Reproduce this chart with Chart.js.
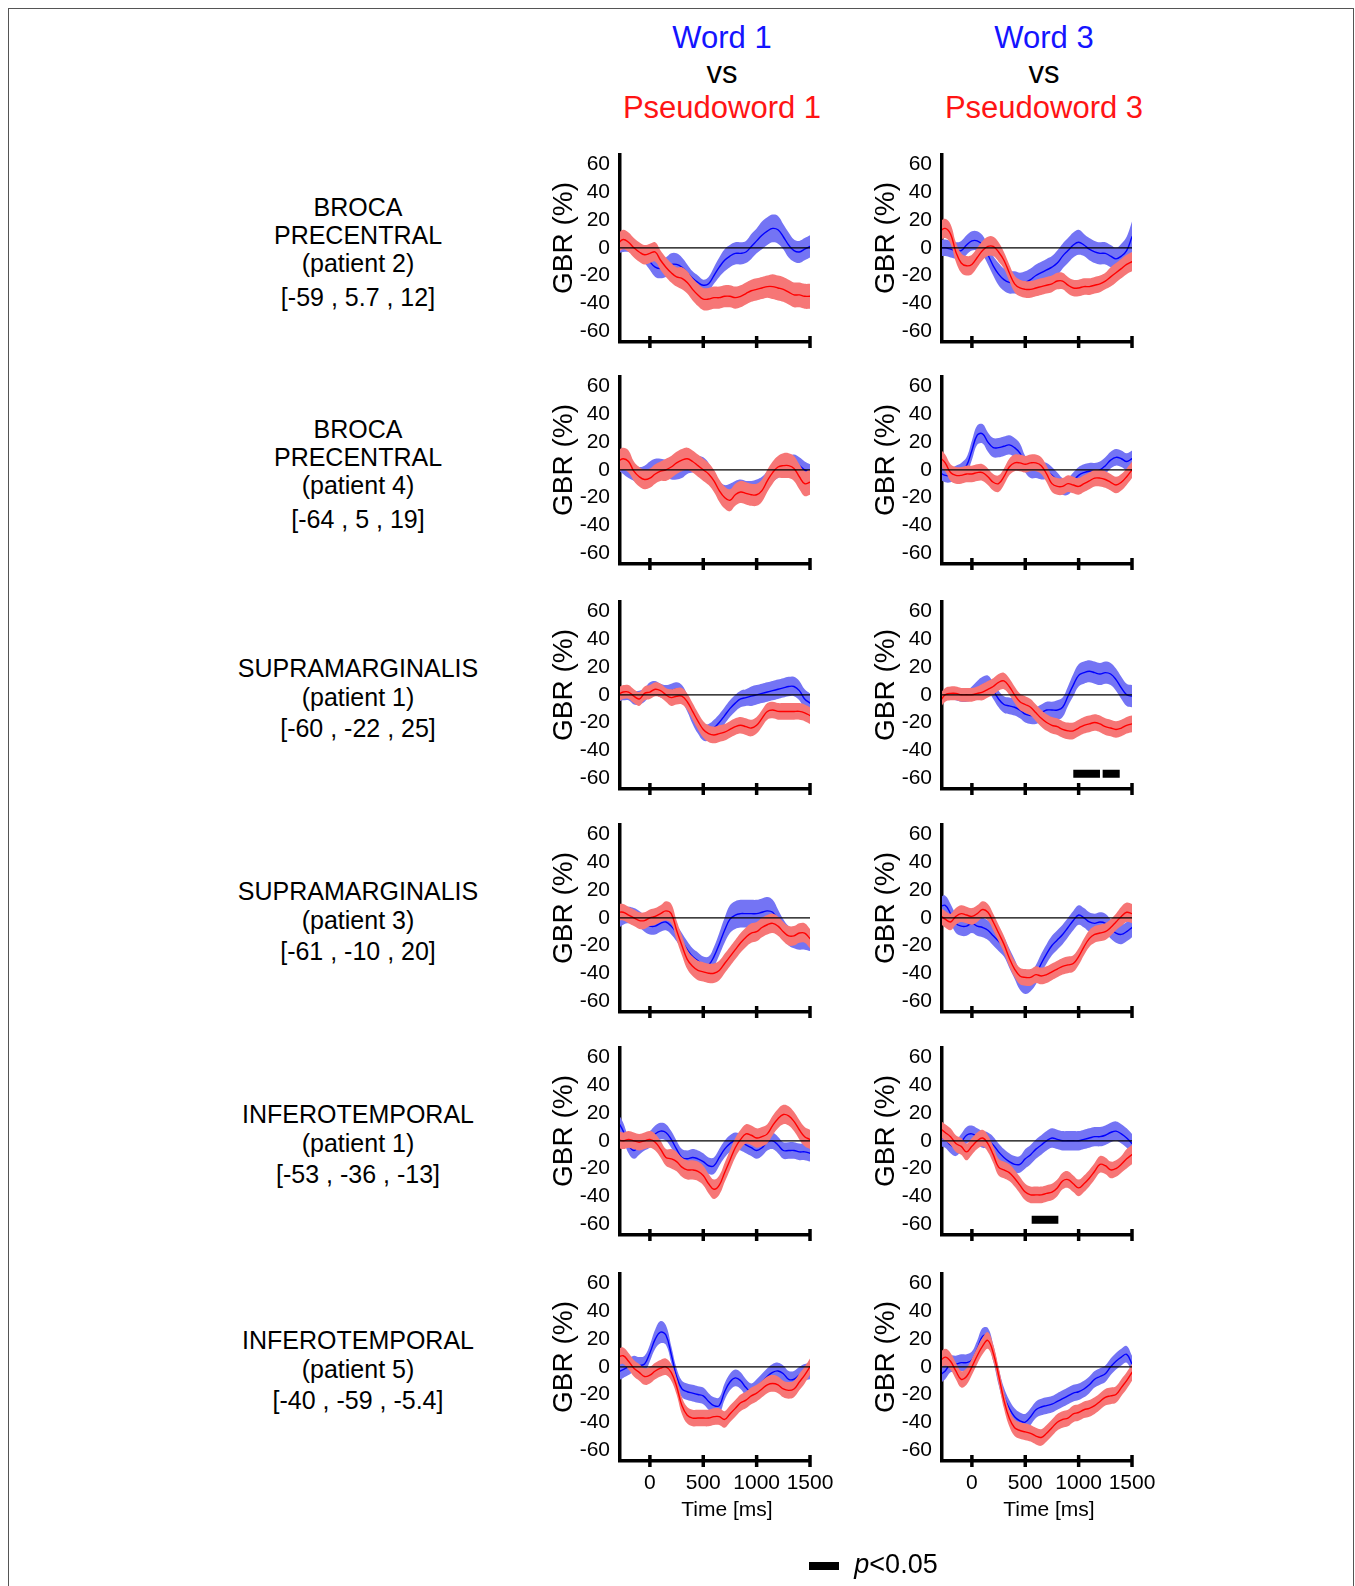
<!DOCTYPE html>
<html>
<head>
<meta charset="utf-8">
<title>Gamma band response: words vs pseudowords</title>
<script src="https://cdn.jsdelivr.net/npm/chart.js@4.4.1/dist/chart.umd.min.js"></script>
<style>
  html, body { margin: 0; padding: 0; background: #fff; }
  body { width: 1355px; height: 1586px; position: relative; overflow: hidden;
         font-family: "Liberation Sans", Arial, Helvetica, sans-serif; color: #000; }
  .frame { position: absolute; left: 8px; top: 8px; width: 1346px; height: 1700px;
           border: 1px solid #555; box-sizing: border-box; }
  .txt { position: absolute; transform: translate(-50%, -50%); white-space: nowrap; line-height: 1; }
  .ylab { position: absolute; transform: translate(-50%, -50%) rotate(-90deg); white-space: nowrap;
          line-height: 1; font-size: 28px; }
  canvas { position: absolute; }
</style>
</head>
<body>
<div class="frame"></div>
<div id="root"></div>
<script>
// ---- time axis (ms) shared by every trace ----
const TIME = [-300,-250,-200,-150,-100,-50,0,50,100,150,200,250,300,350,400,450,500,550,600,650,700,750,800,850,900,950,1000,1050,1100,1150,1200,1250,1300,1350,1400,1450,1500];
const X_TICKS = [0, 500, 1000, 1500];
const Y_TICKS = [-60, -40, -20, 0, 20, 40, 60];
const X_RANGE = [-280, 1500];
const Y_RANGE = [-68, 67];
const SIG_LEVEL = -57;

// ---- column / row headings ----
const COLUMN_TITLES = [
  ["Word 1", "vs", "Pseudoword 1"],
  ["Word 3", "vs", "Pseudoword 3"]
];
const ROW_LABELS = [
  ["BROCA", "PRECENTRAL", "(patient 2)", "[-59 , 5.7 , 12]"],
  ["BROCA", "PRECENTRAL", "(patient 4)", "[-64 , 5 , 19]"],
  ["SUPRAMARGINALIS", "(patient 1)", "[-60 , -22 , 25]"],
  ["SUPRAMARGINALIS", "(patient 3)", "[-61 , -10 , 20]"],
  ["INFEROTEMPORAL", "(patient 1)", "[-53 , -36 , -13]"],
  ["INFEROTEMPORAL", "(patient 5)", "[-40 , -59 , -5.4]"]
];

// ---- GBR (%) means and confidence half-widths ----
// Broca / precentral, patient 2
const brocaP2_w1     = [0,1,1,0,-2,-5,-10,-14,-15,-14,-12,-12,-14,-18,-22,-25,-27,-26,-20,-14,-9,-6,-4,-4,-3,1,5,9,12,14,13,8,2,-2,-3,-1,1];
const brocaP2_w1_ci  = [4,4,4,5,5,6,6,7,7,7,8,8,7,6,5,5,4,5,6,7,8,8,8,8,8,9,9,10,10,10,10,9,9,8,8,8,8];
const brocaP2_pw1    = [3,6,4,0,-3,-5,-4,-3,-9,-14,-18,-21,-22,-25,-30,-34,-37,-37,-36,-36,-35,-35,-36,-35,-33,-31,-30,-29,-28,-28,-29,-30,-32,-34,-34,-35,-35];
const brocaP2_pw1_ci = [7,7,7,7,7,7,7,7,7,7,7,7,8,8,8,8,8,8,8,8,8,8,8,8,8,8,8,8,8,9,9,9,9,9,9,9,9];
const brocaP2_w3     = [0,0,-1,-2,-2,2,5,5,2,-5,-13,-19,-23,-25,-25,-26,-25,-23,-20,-18,-16,-14,-11,-6,-2,2,4,2,-1,-3,-4,-4,-6,-8,-6,-2,8];
const brocaP2_w3_ci  = [6,6,6,6,7,7,7,7,7,7,7,8,8,8,8,8,8,8,8,8,8,8,9,9,9,9,9,8,8,8,8,8,8,8,9,10,11];
const brocaP2_pw3    = [12,14,10,-3,-11,-13,-12,-7,-2,1,1,-3,-9,-18,-26,-29,-30,-30,-29,-28,-27,-26,-24,-24,-27,-29,-29,-28,-28,-27,-26,-24,-21,-18,-15,-12,-10];
const brocaP2_pw3_ci = [7,7,7,7,7,7,7,7,7,7,7,7,6,6,6,6,6,6,6,6,6,6,6,6,6,6,6,6,6,6,6,6,7,7,7,7,7];

// Broca / precentral, patient 4
const brocaP4_w1     = [7,4,0,-2,-4,-3,0,2,2,1,-1,-1,0,3,4,4,3,-1,-8,-14,-17,-16,-14,-13,-14,-14,-13,-11,-7,-3,0,2,4,5,3,0,-2];
const brocaP4_w1_ci  = [7,7,6,6,6,6,6,6,6,6,6,6,6,6,6,6,6,6,6,6,6,6,6,6,6,6,6,6,6,6,6,6,6,6,6,6,6];
const brocaP4_pw1    = [6,8,6,-1,-5,-7,-6,-3,-1,0,2,5,7,8,6,3,0,-3,-8,-15,-20,-22,-18,-16,-17,-18,-18,-15,-8,-2,2,3,3,1,-5,-10,-9];
const brocaP4_pw1_ci = [8,8,8,7,7,7,7,7,7,8,8,8,8,8,8,8,8,8,8,8,8,8,8,8,8,8,8,8,8,8,8,9,9,9,9,9,9];
const brocaP4_w3     = [-2,-4,-4,-2,0,3,14,25,26,20,16,16,17,18,16,12,4,0,0,-1,-1,-4,-8,-12,-12,-8,-4,-2,-1,-1,0,3,7,9,8,6,8];
const brocaP4_w3_ci  = [5,5,5,5,5,6,7,7,7,7,7,7,7,7,7,7,6,6,6,6,6,6,6,6,6,6,6,6,6,6,6,6,6,6,6,6,6];
const brocaP4_pw3    = [9,5,-2,-4,-4,-3,-3,-2,-2,-5,-9,-10,-5,2,5,5,4,5,5,3,-3,-10,-12,-12,-10,-11,-12,-10,-8,-6,-6,-7,-9,-11,-9,-5,0];
const brocaP4_pw3_ci = [6,6,6,6,6,6,6,6,6,6,6,6,6,6,6,6,6,6,6,6,6,6,6,6,6,6,6,6,6,6,6,6,6,6,6,6,6];

// Supramarginalis, patient 1
const supraP1_w1     = [0,1,1,-2,-2,0,4,5,3,2,3,4,1,-6,-15,-22,-27,-27,-24,-20,-15,-10,-6,-3,-2,-1,0,1,2,3,4,5,6,6,3,-3,-6];
const supraP1_w1_ci  = [5,5,5,5,5,5,5,5,5,5,5,5,6,6,6,6,6,6,6,6,6,6,6,6,6,7,7,7,7,7,7,7,7,7,7,7,7];
const supraP1_pw1    = [0,2,2,-1,-3,1,2,4,3,0,-2,-1,-1,-5,-12,-19,-25,-28,-29,-28,-27,-25,-23,-22,-23,-24,-22,-17,-12,-11,-12,-12,-12,-12,-12,-13,-15];
const supraP1_pw1_ci = [5,5,5,5,5,5,5,5,5,5,6,6,6,6,6,6,6,6,6,6,6,6,6,6,6,6,6,6,6,6,6,6,6,6,6,6,6];
const supraP1_w3     = [-3,0,1,0,-1,-1,1,4,7,8,3,-3,-7,-8,-9,-11,-14,-15,-15,-13,-11,-11,-11,-9,-1,7,14,16,17,16,15,16,15,11,5,0,-1];
const supraP1_w3_ci  = [4,4,4,4,4,4,5,6,6,6,6,6,6,6,6,6,6,6,6,6,6,6,7,7,7,8,8,8,8,8,8,8,8,8,8,8,8];
const supraP1_pw3    = [-5,0,1,1,0,0,0,1,2,4,6,9,10,6,0,-5,-7,-9,-13,-17,-20,-22,-23,-25,-26,-26,-24,-22,-21,-20,-21,-23,-24,-25,-24,-22,-21];
const supraP1_pw3_ci = [5,5,5,5,5,5,5,5,6,6,6,6,6,6,6,6,6,6,6,6,6,6,6,6,6,6,6,6,6,6,6,6,6,6,6,6,6];
const supraP1_sig3   = [[950, 1200], [1225, 1385]];

// Supramarginalis, patient 3
const supraP3_w1     = [-2,1,2,1,-1,-4,-6,-6,-4,-3,-6,-11,-17,-23,-28,-31,-34,-34,-28,-19,-9,-1,2,3,3,3,3,4,5,4,-2,-8,-13,-15,-16,-16,-17];
const supraP3_w1_ci  = [6,6,6,6,6,6,6,6,6,6,6,6,6,6,6,6,6,6,7,8,9,10,10,10,10,10,10,10,10,9,8,7,7,7,7,7,7];
const supraP3_pw1    = [4,4,2,0,-2,-2,0,1,3,5,3,-9,-20,-30,-35,-38,-39,-40,-40,-38,-33,-28,-23,-18,-14,-11,-10,-7,-5,-4,-6,-10,-13,-13,-11,-11,-15];
const supraP3_pw1_ci = [6,6,6,6,6,6,6,6,6,7,7,7,7,7,7,7,7,7,7,7,7,7,7,7,7,7,7,7,7,7,7,7,7,7,7,7,7];
const supraP3_w3     = [8,9,3,-4,-6,-6,-4,-6,-7,-9,-13,-17,-21,-29,-37,-45,-48,-46,-41,-33,-26,-20,-16,-12,-7,-2,2,0,-3,-4,-3,-4,-8,-11,-12,-10,-7];
const supraP3_w3_ci  = [7,7,7,7,7,7,7,7,7,7,7,7,7,7,7,7,7,7,7,7,7,7,7,7,7,7,7,7,7,7,7,7,7,7,7,7,7];
const supraP3_pw3    = [2,-1,-3,1,3,2,1,3,6,4,-3,-11,-19,-29,-37,-42,-43,-43,-41,-42,-41,-39,-37,-35,-34,-33,-28,-21,-15,-12,-11,-10,-7,-3,1,4,3];
const supraP3_pw3_ci = [6,6,6,6,6,6,6,6,6,6,6,6,6,6,6,6,6,6,6,6,6,6,6,6,6,6,6,6,6,6,6,6,6,6,7,7,7];

// Inferotemporal, patient 1
const infP1_w1       = [14,7,-3,-7,-4,-1,1,5,7,6,1,-6,-12,-13,-12,-13,-15,-18,-18,-12,-6,-2,0,-1,-3,-5,-7,-5,-1,0,-3,-7,-7,-7,-8,-8,-9];
const infP1_w1_ci    = [6,6,6,6,6,6,6,6,6,6,6,6,6,6,6,6,6,6,6,6,6,6,6,6,6,6,6,6,6,6,6,6,6,6,6,6,6];
const infP1_pw1      = [1,0,1,0,-1,0,1,-1,-6,-12,-13,-15,-19,-21,-21,-22,-25,-31,-35,-32,-23,-14,-5,1,5,4,2,3,5,11,16,19,18,14,8,3,1];
const infP1_pw1_ci   = [6,6,6,6,6,6,6,6,6,6,7,7,7,7,7,7,7,7,7,7,7,7,7,7,7,7,7,7,7,7,7,7,7,7,7,7,7];
const infP1_w3       = [2,1,-3,-5,-1,4,5,3,1,0,-3,-8,-12,-15,-17,-17,-13,-10,-6,-3,0,2,1,0,0,0,0,1,2,3,3,4,6,7,5,2,-2];
const infP1_w3_ci    = [6,6,6,6,6,6,6,6,6,6,6,6,6,6,6,6,7,7,7,7,7,7,7,7,7,7,7,7,7,7,7,7,7,7,7,7,7];
const infP1_pw3      = [9,6,3,-2,-4,-8,-4,0,2,-2,-10,-19,-21,-23,-27,-32,-37,-39,-39,-39,-38,-37,-34,-29,-28,-31,-34,-31,-27,-22,-17,-18,-21,-20,-17,-13,-10];
const infP1_pw3_ci   = [6,6,6,6,6,6,6,6,6,6,6,6,6,6,6,6,6,6,6,6,6,6,6,6,6,6,6,6,6,6,6,6,6,6,6,7,7];
const infP1_sig3     = [[560, 810]];

// Inferotemporal, patient 5
const infP5_w1       = [-4,-2,0,2,1,2,10,20,25,23,9,-7,-16,-18,-19,-20,-21,-25,-28,-28,-18,-11,-8,-10,-15,-18,-15,-11,-7,-4,-3,-5,-9,-9,-6,-4,-3];
const infP5_w1_ci    = [6,6,6,6,6,6,6,7,8,7,6,6,6,6,6,6,6,6,6,6,6,6,6,6,6,6,6,6,6,6,6,6,6,6,6,6,6];
const infP5_pw1      = [7,8,4,-1,-4,-7,-6,-3,-1,0,-4,-14,-28,-35,-37,-37,-37,-37,-36,-36,-38,-34,-30,-26,-24,-21,-19,-16,-13,-12,-13,-16,-17,-16,-11,-6,0];
const infP5_pw1_ci   = [6,6,6,6,6,6,6,6,6,6,6,6,6,6,6,6,6,6,6,6,6,6,6,6,6,6,6,6,6,6,6,6,6,6,6,6,6];
const infP5_w3       = [-6,-3,2,2,3,3,5,13,22,22,10,-7,-21,-30,-36,-39,-40,-36,-31,-29,-28,-27,-25,-23,-21,-19,-18,-16,-13,-9,-7,-5,0,4,7,9,2];
const infP5_w3_ci    = [6,6,6,6,6,6,6,6,6,6,6,6,6,6,6,6,6,6,6,6,6,6,6,6,6,6,6,6,6,6,6,6,6,6,6,6,6];
const infP5_pw3      = [4,7,4,-3,-9,-7,0,8,15,19,10,-6,-24,-37,-44,-46,-47,-48,-50,-51,-48,-44,-40,-38,-37,-34,-33,-31,-30,-28,-25,-22,-21,-20,-15,-10,-4];
const infP5_pw3_ci   = [6,6,6,6,6,6,6,6,6,6,6,6,6,6,6,6,6,6,6,6,6,6,6,6,6,6,6,6,6,6,6,6,6,6,6,6,6];

// ---- panel grid: one entry per row, [word-1 column, word-3 column] ----
const PANELS = [
  [{word: brocaP2_w1, wordCi: brocaP2_w1_ci, pseudo: brocaP2_pw1, pseudoCi: brocaP2_pw1_ci, sig: []},
   {word: brocaP2_w3, wordCi: brocaP2_w3_ci, pseudo: brocaP2_pw3, pseudoCi: brocaP2_pw3_ci, sig: []}],
  [{word: brocaP4_w1, wordCi: brocaP4_w1_ci, pseudo: brocaP4_pw1, pseudoCi: brocaP4_pw1_ci, sig: []},
   {word: brocaP4_w3, wordCi: brocaP4_w3_ci, pseudo: brocaP4_pw3, pseudoCi: brocaP4_pw3_ci, sig: []}],
  [{word: supraP1_w1, wordCi: supraP1_w1_ci, pseudo: supraP1_pw1, pseudoCi: supraP1_pw1_ci, sig: []},
   {word: supraP1_w3, wordCi: supraP1_w3_ci, pseudo: supraP1_pw3, pseudoCi: supraP1_pw3_ci, sig: supraP1_sig3}],
  [{word: supraP3_w1, wordCi: supraP3_w1_ci, pseudo: supraP3_pw1, pseudoCi: supraP3_pw1_ci, sig: []},
   {word: supraP3_w3, wordCi: supraP3_w3_ci, pseudo: supraP3_pw3, pseudoCi: supraP3_pw3_ci, sig: []}],
  [{word: infP1_w1, wordCi: infP1_w1_ci, pseudo: infP1_pw1, pseudoCi: infP1_pw1_ci, sig: []},
   {word: infP1_w3, wordCi: infP1_w3_ci, pseudo: infP1_pw3, pseudoCi: infP1_pw3_ci, sig: infP1_sig3}],
  [{word: infP5_w1, wordCi: infP5_w1_ci, pseudo: infP5_pw1, pseudoCi: infP5_pw1_ci, sig: []},
   {word: infP5_w3, wordCi: infP5_w3_ci, pseudo: infP5_pw3, pseudoCi: infP5_pw3_ci, sig: []}]
];

// ---- styling & layout ----
const FONT = '"Liberation Sans", Arial, Helvetica, sans-serif';
const WORD_BAND = '#7474f4', WORD_LINE = '#0000ff';
const PSEUDO_BAND = '#f67676', PSEUDO_LINE = '#ff0000';
const TITLE_BLUE = '#1414ff', TITLE_RED = '#ff1414';
const COL_LEFT = [530, 852];            // canvas left edge per column
const PLOT_TOP = [155, 377, 602, 825, 1048, 1274]; // chart-area top per row
const PLOT_H = 187, Y_AXIS_W = 90, PAD_TOP = 10, PAD_RIGHT = 30, CANVAS_W = 310;
const TICK_FONT = 21;

Chart.defaults.font.family = FONT;
Chart.defaults.color = '#000';

const root = document.getElementById('root');
function addText(cls, text, x, y, size, color) {
  const d = document.createElement('div');
  d.className = cls;
  d.style.left = x + 'px';
  d.style.top = y + 'px';
  if (size) d.style.fontSize = size + 'px';
  if (color) d.style.color = color;
  d.innerHTML = text;
  root.appendChild(d);
  return d;
}

// column headings
const COL_CENTER = [722, 1044];
const TITLE_Y = [37, 72, 107];
COLUMN_TITLES.forEach((lines, c) => {
  addText('txt', lines[0], COL_CENTER[c], TITLE_Y[0], 31, TITLE_BLUE);
  addText('txt', lines[1], COL_CENTER[c], TITLE_Y[1], 31, '#000');
  addText('txt', lines[2], COL_CENTER[c], TITLE_Y[2], 31, TITLE_RED);
});

// row labels, centred on each row's zero line
const ROW_LABEL_X = 358;
ROW_LABELS.forEach((lines, r) => {
  const zero = PLOT_TOP[r] + PLOT_H * Y_RANGE[1] / (Y_RANGE[1] - Y_RANGE[0]);
  const offs = lines.length === 4 ? [-41, -13, 15, 49] : [-27, 2, 33];
  lines.forEach((t, i) => addText('txt', t, ROW_LABEL_X, zero + offs[i], 25, '#000'));
});

// draws the zero reference line over the traces and the x tick marks across the axis
const panelMarks = {
  id: 'panelMarks',
  afterDatasetsDraw(chart) {
    const {ctx, chartArea, scales: {y}} = chart;
    const y0 = y.getPixelForValue(0);
    ctx.save();
    ctx.strokeStyle = '#000';
    ctx.lineWidth = 1.2;
    ctx.beginPath();
    ctx.moveTo(chartArea.left, y0);
    ctx.lineTo(chartArea.right, y0);
    ctx.stroke();
    ctx.restore();
  },
  afterDraw(chart) {
    const {ctx, chartArea, scales: {x}} = chart;
    ctx.save();
    ctx.strokeStyle = '#000';
    ctx.lineWidth = 3.5;
    x.ticks.forEach(t => {
      const px = x.getPixelForValue(t.value);
      ctx.beginPath();
      ctx.moveTo(px, chartArea.bottom - 6);
      ctx.lineTo(px, chartArea.bottom + 6);
      ctx.stroke();
    });
    ctx.restore();
  }
};

const pts = arr => arr.map((v, i) => ({x: TIME[i], y: v}));
const bound = (mean, ci, s) => mean.map((v, i) => ({x: TIME[i], y: v + s * ci[i]}));
function sigPoints(intervals) {
  const out = [];
  intervals.forEach(([a, b], k) => {
    if (k > 0) out.push({x: (out[out.length - 1].x + a) / 2, y: null});
    out.push({x: a, y: SIG_LEVEL}, {x: b, y: SIG_LEVEL});
  });
  return out;
}

PANELS.forEach((row, r) => {
  const bottomRow = r === PANELS.length - 1;
  const xAxisH = bottomRow ? 70 : 12;
  row.forEach((p, c) => {
    const cv = document.createElement('canvas');
    const h = PAD_TOP + PLOT_H + xAxisH;
    cv.width = CANVAS_W;
    cv.height = h;
    cv.style.left = COL_LEFT[c] + 'px';
    cv.style.top = (PLOT_TOP[r] - PAD_TOP) + 'px';
    cv.style.width = CANVAS_W + 'px';
    cv.style.height = h + 'px';
    root.appendChild(cv);

    const zero = PLOT_TOP[r] + PLOT_H * Y_RANGE[1] / (Y_RANGE[1] - Y_RANGE[0]);
    addText('ylab', 'GBR (%)', COL_LEFT[c] + 33, zero - 10);
    if (bottomRow) addText('txt', 'Time [ms]', COL_LEFT[c] + 197, PLOT_TOP[r] + PLOT_H + 47, 21, '#000');

    const lineBase = {pointRadius: 0, tension: 0.4, borderCapStyle: 'round'};
    new Chart(cv, {
      type: 'line',
      data: {
        datasets: [
          Object.assign({label: 'word upper', data: bound(p.word, p.wordCi, 1), borderWidth: 0, fill: false, order: 4}, lineBase),
          Object.assign({label: 'word lower', data: bound(p.word, p.wordCi, -1), borderWidth: 0, fill: '-1', backgroundColor: WORD_BAND, order: 4}, lineBase),
          Object.assign({label: 'word', data: pts(p.word), borderColor: WORD_LINE, borderWidth: 1.4, fill: false, order: 3}, lineBase),
          Object.assign({label: 'pseudoword upper', data: bound(p.pseudo, p.pseudoCi, 1), borderWidth: 0, fill: false, order: 2}, lineBase),
          Object.assign({label: 'pseudoword lower', data: bound(p.pseudo, p.pseudoCi, -1), borderWidth: 0, fill: '-1', backgroundColor: PSEUDO_BAND, order: 2}, lineBase),
          Object.assign({label: 'pseudoword', data: pts(p.pseudo), borderColor: PSEUDO_LINE, borderWidth: 1.4, fill: false, order: 1}, lineBase),
          {label: 'p<0.05', data: sigPoints(p.sig), borderColor: '#000', borderWidth: 8, borderCapStyle: 'butt',
           pointRadius: 0, tension: 0, fill: false, spanGaps: false, order: 0}
        ]
      },
      options: {
        responsive: false,
        animation: false,
        devicePixelRatio: 1,
        events: [],
        layout: {padding: {top: PAD_TOP, right: PAD_RIGHT, left: 0, bottom: 0}},
        plugins: {legend: {display: false}, tooltip: {enabled: false}},
        scales: {
          x: {
            type: 'linear', min: X_RANGE[0], max: X_RANGE[1],
            afterBuildTicks: s => { s.ticks = X_TICKS.map(v => ({value: v})); },
            afterFit: s => { s.height = xAxisH; s.paddingLeft = 0; s.paddingRight = 0; },
            grid: {display: false, drawTicks: false},
            border: {display: true, color: '#000', width: 3.5},
            ticks: {display: bottomRow, autoSkip: false, maxRotation: 0, padding: 10,
                    font: {size: TICK_FONT}, color: '#000', callback: v => String(v)}
          },
          y: {
            type: 'linear', min: Y_RANGE[0], max: Y_RANGE[1],
            afterBuildTicks: s => { s.ticks = Y_TICKS.map(v => ({value: v})); },
            afterFit: s => { s.width = Y_AXIS_W; s.paddingTop = 0; s.paddingBottom = 0; },
            grid: {display: false, drawTicks: false},
            border: {display: true, color: '#000', width: 3.5},
            ticks: {padding: 10, font: {size: TICK_FONT}, color: '#000', callback: v => String(v)}
          }
        }
      },
      plugins: [panelMarks]
    });
  });
});

// significance key
const key = document.createElement('div');
Object.assign(key.style, {position: 'absolute', left: '809px', top: '1562px', width: '30px', height: '8px', background: '#000'});
root.appendChild(key);
addText('txt', '<i>p</i>&lt;0.05', 896, 1564, 27, '#000');
</script>
</body>
</html>
